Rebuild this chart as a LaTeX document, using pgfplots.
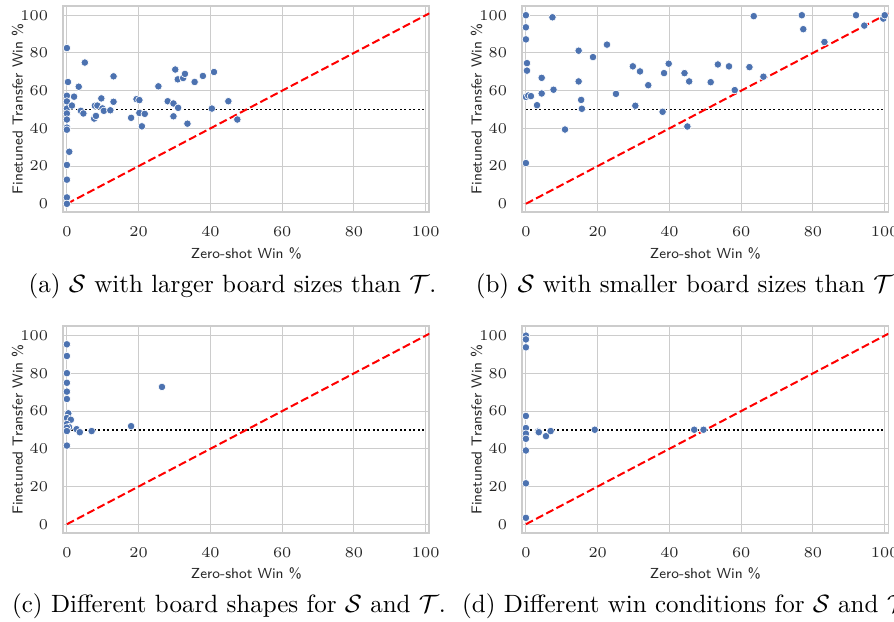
\documentclass[border=0pt]{standalone}
\usepackage{pgfplots}
\pgfplotsset{compat=1.18}
\definecolor{sbblue}{HTML}{4C72B0}
\definecolor{gridc}{HTML}{CCCCCC}
\definecolor{txt}{HTML}{262626}
\pgfplotsset{
  panel/.style={
    scale only axis, width=146.4pt, height=82.6pt,
    xmin=-1, xmax=101, ymin=-4.5, ymax=105,
    xtick={0,20,...,100}, ytick={0,20,...,100},
    grid=major, major grid style={gridc, line width=0.4pt},
    axis line style={gridc, line width=0.65pt},
    tick style={draw=none},
    ticklabel style={font=\fontsize{5.6}{6.6}\selectfont, text=txt},
    xticklabel shift=2.4pt,
    yticklabel shift=2.6pt,
    xlabel style={at={(axis description cs:0.5,-0.197)}, anchor=center, font=\sffamily\fontsize{5.8}{7}\selectfont, text=txt},
    ylabel style={at={(axis description cs:-0.125,0.5)}, anchor=center, font=\sffamily\fontsize{5.8}{7}\selectfont, text=txt},
    xlabel={Zero-shot Win \%},
    ylabel={Finetuned Transfer Win \%},
  },
  pts/.style={only marks, mark=*, mark size=1.5pt, mark options={fill=sbblue, draw=white, line width=0.25pt}},
  diag/.style={red, line width=0.8pt, dash pattern=on 3.2pt off 1.4pt},
  half/.style={black, line width=0.75pt, dash pattern=on 0.75pt off 1.05pt},
}
\pgfplotstableread{
x y
0 82.6
0.3 64.6
0 57.3
0 54.3
0 50.5
0 47.9
0 44.7
0 40.4
0 39.3
0.65 27.6
0 20.6
0 12.8
0 3.4
0 0
1.4 52.1
2 56.8
3.3 62.1
3.9 49.3
4.6 47.9
5 74.9
7.6 45.2
8.1 46.6
7.8 52.0
8.5 52.1
9.6 55.9
9.9 50.6
10.3 49.3
12.1 49.6
13 67.6
13 54.1
17.9 45.6
19.4 55.5
20.2 55
20.2 48.2
20.9 41.1
21.7 47.7
25.5 62.3
28.1 54.4
29.7 53.2
29.7 46.4
30.2 71.2
30.9 66
31 50.9
32.4 66.7
32.9 68.9
33.6 42.5
35.6 64.6
37.9 67.8
40.4 50.5
41 69.9
45 54.4
47.5 44.7
}\dataA
\pgfplotstableread{
x y
0 100
0 93.6
0 87.2
0.3 74.6
0.3 70.6
0 56.7
0.65 57.4
1.4 57.1
0 21.6
3.1 52.3
4.4 66.8
4.4 58.5
7.4 98.9
7.7 60.5
10.9 39.4
14.7 81.2
14.7 64.9
15.4 55.1
15.6 50.4
18.7 77.8
22.6 84.4
25.1 58.3
29.8 72.9
30.5 52
31.8 70.2
34.1 62.9
38.1 48.8
38.5 69.3
39.8 74.3
44.2 69.3
45 41
45.5 64.9
51.5 64.5
53.5 73.9
56.6 72.9
58.2 60.3
62.3 72.5
63.5 99.5
66.2 67.4
76.9 100
77.3 92.6
83.2 85.8
92 100
94.3 94.5
99.6 98.2
100 100
}\dataB
\pgfplotstableread{
x y
0 95.4
0 89.2
0 80.1
0 75
0 70.3
0 66.4
0.4 58.8
0 56.3
1.1 55.4
0 53.1
0.6 51.5
0 51.2
0 49.4
2.7 50.4
3.6 48.8
6.9 49.4
17.9 52
26.5 72.8
0 41.7
}\dataC
\pgfplotstableread{
x y
0 100
0 98
0 93.8
0 57.4
0 51
0 48
0 45.3
0 39.1
0 21.7
0 3.4
3.4 49.2
3.6 48.8
5.6 46.7
6.9 49.4
19.2 50.1
46.9 50.1
49.5 50.1
}\dataD
\begin{document}
\begin{tikzpicture}
\begin{axis}[panel, at={(25.32pt,-84.92pt)}, anchor=south west]
\addplot[pts] table {\dataA};
\addplot[half] coordinates {(0,50) (100,50)};
\addplot[diag] coordinates {(0,0) (101,101)};
\end{axis}
\begin{axis}[panel, at={(208.92pt,-84.92pt)}, anchor=south west]
\addplot[pts] table {\dataB};
\addplot[half] coordinates {(0,50) (100,50)};
\addplot[diag] coordinates {(0,0) (101,101)};
\end{axis}
\begin{axis}[panel, at={(25.32pt,-213.08pt)}, anchor=south west]
\addplot[pts] table {\dataC};
\addplot[half] coordinates {(0,50) (100,50)};
\addplot[diag] coordinates {(0,0) (101,101)};
\end{axis}
\begin{axis}[panel, at={(208.92pt,-213.08pt)}, anchor=south west]
\addplot[pts] table {\dataD};
\addplot[half] coordinates {(0,50) (100,50)};
\addplot[diag] coordinates {(0,0) (101,101)};
\end{axis}
\node[anchor=center] at (93pt,-114.6pt) {(a) $\mathcal{S}$ with larger board sizes than $\mathcal{T}$.};
\node[anchor=center] at (275.2pt,-114.6pt) {(b) $\mathcal{S}$ with smaller board sizes than $\mathcal{T}$.};
\node[anchor=center] at (91.6pt,-242.6pt) {(c) Different board shapes for $\mathcal{S}$ and $\mathcal{T}$.};
\node[anchor=center] at (275.2pt,-242.6pt) {(d) Different win conditions for $\mathcal{S}$ and $\mathcal{T}$.};
\pgfresetboundingbox
\path[use as bounding box] (0pt,0pt) rectangle (357.6pt,-248.4pt);
\end{tikzpicture}
\end{document}
